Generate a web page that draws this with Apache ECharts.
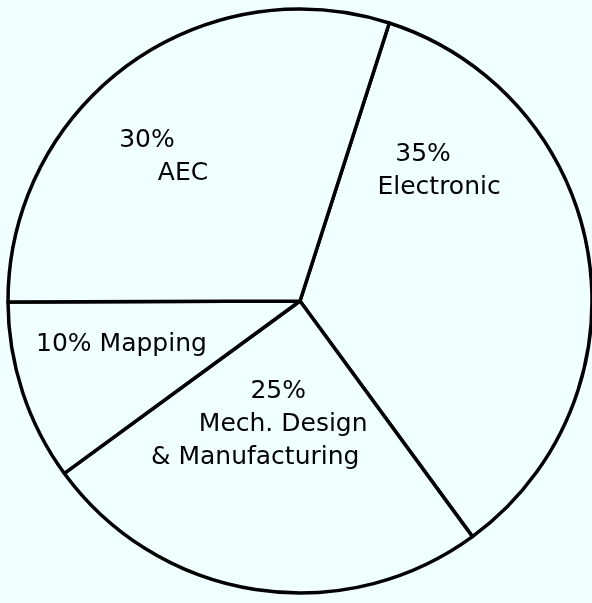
<!DOCTYPE html>
<html>
<head>
<meta charset="utf-8">
<title>CAD Market Share</title>
<script src="https://cdn.jsdelivr.net/npm/echarts@6/dist/echarts.min.js"></script>
<style>
  html, body { margin: 0; padding: 0; background: #f0ffff; }
  #chart { width: 592px; height: 603px; }
</style>
</head>
<body>
<div id="chart"></div>
<script>
// Market segments, clockwise from the upper right
const categories = ['Electronic', 'Mech. Design\n& Manufacturing', 'Mapping', 'AEC'];
const shares = [35, 25, 10, 30];

// Label placement inside each slice (offset from the default inside point)
const labelOffsets = [[-16, -106], [-8, -24], [-37, -3], [-47, -24]];
// Horizontal nudge of each text line (percentage line first)
const lineShifts = [[-8, 8], [9, 14, -14], [0], [-18, 18]];
// Whether the percentage sits on the same line as the name
const inlineLabel = [false, false, true, false];

const bg = '#f0ffff';
const font = {
  fontFamily: 'DejaVu Sans',
  fontSize: 25,
  color: '#000',
  lineHeight: 33
};

// A rich style that shifts a centred line sideways by d pixels
function shifted(d) {
  const pad = d > 0 ? [0, 0, 0, 2 * d] : [0, -2 * d, 0, 0];
  return Object.assign({}, font, { padding: pad });
}

const data = categories.map((name, i) => {
  const rich = {};
  lineShifts[i].forEach((d, k) => { rich['l' + k] = shifted(d); });
  return {
    name: name,
    value: shares[i],
    label: {
      offset: labelOffsets[i],
      formatter: (p) => {
        const pct = p.value + '%';
        const lines = inlineLabel[i]
          ? [pct + ' ' + p.name.replace(/\n/g, ' ')]
          : [pct].concat(p.name.split('\n'));
        return lines.map((l, k) => `{l${k}|${l}}`).join('\n');
      },
      rich: rich
    }
  };
});

const chart = echarts.init(document.getElementById('chart'), null, { renderer: 'canvas' });
chart.setOption({
  backgroundColor: bg,
  animation: false,
  series: [{
    type: 'pie',
    center: [300, 301],
    radius: [0, 292],
    startAngle: 72.2,
    clockwise: true,
    silent: true,
    avoidLabelOverlap: false,
    itemStyle: {
      color: bg,
      borderColor: '#000',
      borderWidth: 3.5,
      borderJoin: 'round'
    },
    label: {
      show: true,
      position: 'inside',
      ...font
    },
    labelLine: { show: false },
    emphasis: { disabled: true },
    data: data
  }]
});
</script>
</body>
</html>
